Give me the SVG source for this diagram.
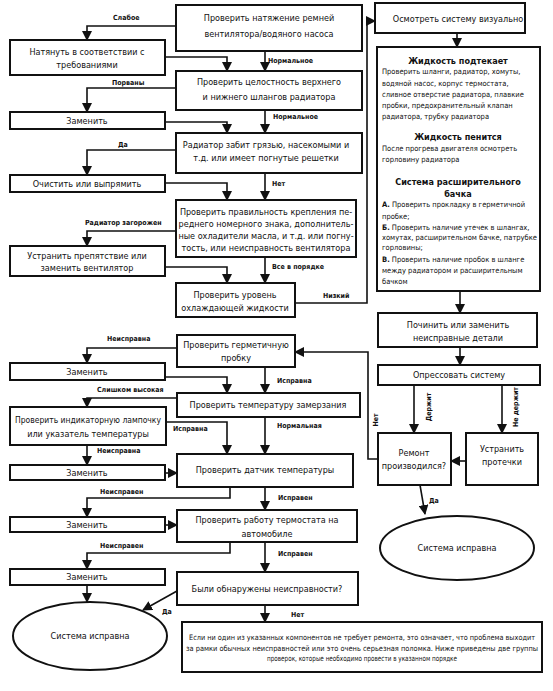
<svg xmlns="http://www.w3.org/2000/svg" width="553" height="691" viewBox="0 0 553 691">
<defs>
<marker id="ah" markerUnits="userSpaceOnUse" markerWidth="10" markerHeight="10" refX="9" refY="5" orient="auto">
<path d="M0,0 L10,5 L0,10 Z" fill="#111"/>
</marker>
<style>
rect.b{fill:#fff;stroke:#111;stroke-width:2}
ellipse.b{fill:#fff;stroke:#111;stroke-width:2}
.t{font-family:"DejaVu Sans Condensed","Liberation Sans",sans-serif;font-size:9px;fill:#111;text-anchor:middle}
.p{font-family:"DejaVu Sans Condensed","Liberation Sans",sans-serif;font-size:7.5px;fill:#111;text-anchor:middle}
.s{font-family:"DejaVu Sans Condensed","Liberation Sans",sans-serif;font-size:7.5px;fill:#111}
.h{font-family:"DejaVu Sans Condensed","Liberation Sans",sans-serif;font-size:9px;font-weight:bold;fill:#111;text-anchor:middle}
.l{font-family:"DejaVu Sans Condensed","Liberation Sans",sans-serif;font-size:7px;font-weight:bold;fill:#111}
.r{font-family:"DejaVu Sans Condensed","Liberation Sans",sans-serif;font-size:7px;font-weight:bold;fill:#111;text-anchor:middle}
.c path{fill:none;stroke:#111;stroke-width:1.6;marker-end:url(#ah)}
</style>
</defs>
<rect width="553" height="691" fill="#fff"/>

<g class="c" id="connectors">
<path d="M176,26 H87 V40"/>
<path d="M265,51 V71"/>
<path d="M165,57 H227 V71"/>
<path d="M176,88 H87 V112"/>
<path d="M165,122 H227 V133"/>
<path d="M265,110 V133"/>
<path d="M176,150 H87 V175"/>
<path d="M165,183 H227 V200"/>
<path d="M265,173 V200"/>
<path d="M176,231 H87 V246"/>
<path d="M165,267 H227 V283"/>
<path d="M265,257 V283"/>
<path d="M295,303 H367 V21 H375"/>
<path d="M457,33 V47"/>
<path d="M460,291 V313"/>
<path d="M460,347 V365"/>
<path d="M414,385 V433"/>
<path d="M502,385 V433"/>
<path d="M466,461 H451"/>
<path d="M378,459 H368 V352 H295"/>
<path d="M420,485 L425,514"/>
<path d="M177,348 H87 V363"/>
<path d="M165,377 H227 V393"/>
<path d="M265,367 V393"/>
<path d="M177,398 H87 V407"/>
<path d="M166,422 H227 V454"/>
<path d="M265,417 V454"/>
<path d="M87,445 V465"/>
<path d="M165,473 H177"/>
<path d="M230,487 V498 H87 V517"/>
<path d="M265,487 V510"/>
<path d="M165,525 H177"/>
<path d="M230,542 V553 H87 V569"/>
<path d="M265,542 V572"/>
<path d="M87,585 V602"/>
<path d="M177,591 L143,610"/>
<path d="M265,605 V622"/>
<text class="l" x="113" y="20">Слабое</text>
<text class="l" x="268" y="63">Нормальное</text>
<text class="l" x="112" y="85">Порваны</text>
<text class="l" x="273" y="119">Нормальное</text>
<text class="l" x="118" y="147">Да</text>
<text class="l" x="272" y="186">Нет</text>
<text class="l" x="85" y="225">Радиатор загорожен</text>
<text class="l" x="272" y="269">Все в порядке</text>
<text class="l" x="323" y="298">Низкий</text>
<text class="r" transform="translate(431,407) rotate(-90)">Держит</text>
<text class="r" transform="translate(518,407) rotate(-90)">Не держит</text>
<text class="r" transform="translate(378,420) rotate(-90)">Нет</text>
<text class="l" x="429" y="503">Да</text>
<text class="l" x="107" y="341">Неисправна</text>
<text class="l" x="277" y="383">Исправна</text>
<text class="l" x="97" y="392">Слишком высокая</text>
<text class="l" x="173" y="431">Исправна</text>
<text class="l" x="277" y="428">Нормальная</text>
<text class="l" x="97" y="453">Неисправна</text>
<text class="l" x="100" y="494">Неисправен</text>
<text class="l" x="278" y="500">Исправен</text>
<text class="l" x="100" y="548">Неисправен</text>
<text class="l" x="278" y="556">Исправен</text>
<text class="l" x="162" y="614">Да</text>
<text class="l" x="291" y="617">Нет</text>
</g>

<g id="n1"><rect class="b" x="176" y="5" width="186" height="46"/><text class="t" x="269" y="21">Проверить натяжение ремней</text><text class="t" x="269" y="37">вентилятора/водяного насоса</text></g>
<g id="n2"><rect class="b" x="10" y="40" width="155" height="35"/><text class="t" x="87" y="55">Натянуть в соответствии с</text><text class="t" x="87" y="68">требованиями</text></g>
<g id="n3"><rect class="b" x="176" y="71" width="186" height="39"/><text class="t" x="269" y="85">Проверить целостность верхнего</text><text class="t" x="269" y="100">и нижнего шлангов радиатора</text></g>
<g id="n4"><rect class="b" x="10" y="112" width="155" height="17"/><text class="t" x="87" y="124">Заменить</text></g>
<g id="n5"><rect class="b" x="176" y="133" width="186" height="40"/><text class="t" x="266" y="148">Радиатор забит грязью, насекомыми и</text><text class="t" x="266" y="161">т.д. или имеет погнутые решетки</text></g>
<g id="n6"><rect class="b" x="10" y="175" width="155" height="17"/><text class="t" x="87" y="187">Очистить или выпрямить</text></g>
<g id="n7"><rect class="b" x="176" y="200" width="180" height="57"/><text class="t" x="266" y="215">Проверить правильность крепления пе-</text><text class="t" x="266" y="227">реднего номерного знака, дополнитель-</text><text class="t" x="266" y="239">ные охладители масла, и т.д. или погну-</text><text class="t" x="266" y="251">тость, или неисправность вентилятора</text></g>
<g id="n8"><rect class="b" x="10" y="246" width="155" height="30"/><text class="t" x="87" y="259">Устранить препятствие или</text><text class="t" x="87" y="271">заменить вентилятор</text></g>
<g id="n9"><rect class="b" x="176" y="283" width="119" height="34"/><text class="t" x="235" y="298">Проверить уровень</text><text class="t" x="235" y="311">охлаждающей жидкости</text></g>
<g id="n10"><rect class="b" x="375" y="3" width="150" height="30"/><text class="t" x="458" y="22">Осмотреть систему визуально</text></g>
<g id="n11"><rect class="b" x="377" y="47" width="163" height="244"/>
<text class="h" x="458" y="64">Жидкость подтекает</text>
<text class="s" x="382" y="74">Проверить шланги, радиатор, хомуты,</text>
<text class="s" x="382" y="86">водяной насос, корпус термостата,</text>
<text class="s" x="382" y="97">сливное отверстие радиатора, плавкие</text>
<text class="s" x="382" y="108">пробки, предохранительный клапан</text>
<text class="s" x="382" y="119">радиатора, трубку радиатора</text>
<text class="h" x="458" y="140">Жидкость пенится</text>
<text class="s" x="382" y="151">После прогрева двигателя осмотреть</text>
<text class="s" x="382" y="162">горловину радиатора</text>
<text class="h" x="458" y="185">Система расширительного</text>
<text class="h" x="458" y="197">бачка</text>
<text class="s" x="382" y="207"><tspan font-weight="bold">А.</tspan> Проверить прокладку в герметичной</text>
<text class="s" x="382" y="219">пробке;</text>
<text class="s" x="382" y="230"><tspan font-weight="bold">Б.</tspan> Проверить наличие утечек в шлангах,</text>
<text class="s" x="382" y="240">хомутах, расширительном бачке, патрубке</text>
<text class="s" x="382" y="250">горловины;</text>
<text class="s" x="382" y="262"><tspan font-weight="bold">В.</tspan> Проверить наличие пробок в шланге</text>
<text class="s" x="382" y="273">между радиатором и расширительным</text>
<text class="s" x="382" y="284">бачком</text>
</g>
<g id="n12"><rect class="b" x="378" y="313" width="159" height="34"/><text class="t" x="458" y="328">Починить или заменить</text><text class="t" x="458" y="341">неисправные детали</text></g>
<g id="n13"><rect class="b" x="378" y="365" width="162" height="20"/><text class="t" x="459" y="378">Опрессовать систему</text></g>
<g id="n14"><rect class="b" x="378" y="433" width="73" height="52"/><text class="t" x="414" y="456">Ремонт</text><text class="t" x="414" y="469">производился?</text></g>
<g id="n15"><rect class="b" x="466" y="433" width="72" height="52"/><text class="t" x="502" y="452">Устранить</text><text class="t" x="502" y="465">протечки</text></g>
<g id="n16"><ellipse class="b" cx="457" cy="548" rx="77" ry="32"/><text class="t" x="457" y="551">Система исправна</text></g>
<g id="n17"><rect class="b" x="177" y="335" width="118" height="32"/><text class="t" x="236" y="348">Проверить герметичную</text><text class="t" x="236" y="361">пробку</text></g>
<g id="n18"><rect class="b" x="10" y="363" width="155" height="17"/><text class="t" x="87" y="375">Заменить</text></g>
<g id="n19"><rect class="b" x="177" y="393" width="183" height="24"/><text class="t" x="268" y="408">Проверить температуру замерзания</text></g>
<g id="n20"><rect class="b" x="10" y="407" width="156" height="38"/><text class="t" x="88" y="423" textLength="146" lengthAdjust="spacingAndGlyphs">Проверить индикаторную лампочку</text><text class="t" x="88" y="437">или указатель температуры</text></g>
<g id="n21"><rect class="b" x="177" y="454" width="176" height="33"/><text class="t" x="265" y="473">Проверить датчик температуры</text></g>
<g id="n22"><rect class="b" x="10" y="465" width="155" height="15"/><text class="t" x="87" y="476">Заменить</text></g>
<g id="n23"><rect class="b" x="177" y="510" width="180" height="32"/><text class="t" x="267" y="523">Проверить работу термостата на</text><text class="t" x="267" y="537">автомобиле</text></g>
<g id="n24"><rect class="b" x="10" y="517" width="155" height="15"/><text class="t" x="87" y="528">Заменить</text></g>
<g id="n25"><rect class="b" x="10" y="569" width="155" height="16"/><text class="t" x="87" y="580">Заменить</text></g>
<g id="n26"><rect class="b" x="177" y="572" width="181" height="33"/><text class="t" x="267" y="592">Были обнаружены неисправности?</text></g>
<g id="n27"><ellipse class="b" cx="90" cy="636" rx="77" ry="34"/><text class="t" x="90" y="639">Система исправна</text></g>
<g id="n28"><rect class="b" x="182" y="622" width="360" height="50"/>
<text class="p" x="362" y="640" textLength="346" lengthAdjust="spacingAndGlyphs">Если ни один из указанных компонентов не требует ремонта, это означает, что проблема выходит</text>
<text class="p" x="362" y="651" textLength="352" lengthAdjust="spacingAndGlyphs">за рамки обычных неисправностей или это очень серьезная поломка. Ниже приведены две группы</text>
<text class="p" x="362" y="661" textLength="190" lengthAdjust="spacingAndGlyphs">проверок, которые необходимо провести в указанном порядке</text>
</g>
</svg>
